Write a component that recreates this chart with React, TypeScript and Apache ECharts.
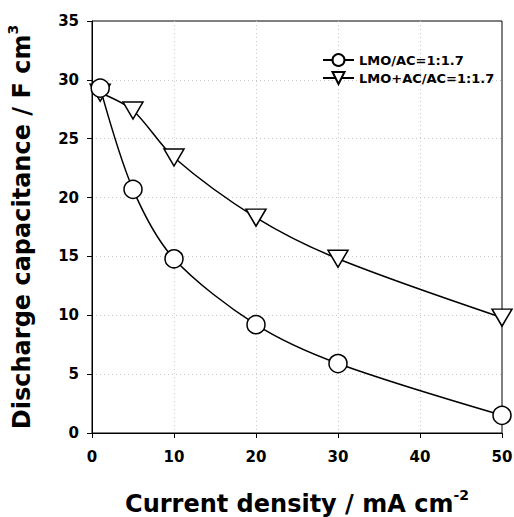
import React, { useEffect, useRef } from "react";
import * as echarts from "echarts";

const xValues = [1, 5, 10, 20, 30, 50];
const lmoAC = [29.3, 20.7, 14.8, 9.2, 5.9, 1.5];
const lmoACAC = [28.9, 27.4, 23.4, 18.3, 14.8, 9.8];
const seriesNames = ["LMO/AC=1:1.7", "LMO+AC/AC=1:1.7"];

const FONT = "DejaVu Sans";

export default function App() {
  const ref = useRef<HTMLDivElement>(null);
  useEffect(() => {
    if (!ref.current) return;
    const chart = echarts.init(ref.current, undefined, { renderer: "svg" });
    const mk = (vals: number[]) => xValues.map((x, i) => [x, vals[i]]);
    chart.setOption({
      animation: false,
      grid: {
        left: 92,
        right: 12,
        top: 21,
        bottom: 84,
        outerBoundsMode: "none",
        containLabel: false,
        show: true,
        borderColor: "#000",
        borderWidth: 1,
        backgroundColor: "transparent",
      },
      legend: {
        left: 317,
        top: 48,
        orient: "vertical",
        itemWidth: 31,
        itemHeight: 15,
        itemGap: 4,
        textStyle: { fontFamily: FONT, fontWeight: "bold", fontSize: 13, color: "#000" },
        data: seriesNames,
      },
      xAxis: {
        type: "value",
        min: 0,
        max: 50,
        interval: 10,
        name: "{m|Current density / mA cm}{s|-2}",
        nameLocation: "middle",
        nameGap: 55,
        nameTextStyle: {
          rich: {
            m: { fontFamily: FONT, fontWeight: "bold", fontSize: 24, color: "#000", lineHeight: 32 },
            s: { fontFamily: FONT, fontWeight: "bold", fontSize: 14, color: "#000", verticalAlign: "top", lineHeight: 32 },
          },
        },
        axisLine: { lineStyle: { color: "#000", width: 1 } },
        axisTick: { show: true, length: 5, lineStyle: { color: "#000" } },
        axisLabel: { fontFamily: FONT, fontWeight: "bold", fontSize: 15, color: "#000", margin: 16 },
        splitLine: { show: true, showMinLine: false, showMaxLine: false, lineStyle: { color: "#c8c8c8", type: [1, 3], width: 1 } },
      },
      yAxis: {
        type: "value",
        min: 0,
        max: 35,
        interval: 5,
        name: "{m|Discharge capacitance / F cm}{s|3}",
        nameLocation: "middle",
        nameGap: 54,
        nameTextStyle: {
          rich: {
            m: { fontFamily: FONT, fontWeight: "bold", fontSize: 24, color: "#000", lineHeight: 32 },
            s: { fontFamily: FONT, fontWeight: "bold", fontSize: 14, color: "#000", verticalAlign: "top", lineHeight: 32 },
          },
        },
        axisLine: { show: true, lineStyle: { color: "#000", width: 1 } },
        axisTick: { show: true, length: 5, lineStyle: { color: "#000" } },
        axisLabel: { fontFamily: FONT, fontWeight: "bold", fontSize: 15, color: "#000", margin: 13 },
        splitLine: { show: true, showMinLine: false, showMaxLine: false, lineStyle: { color: "#c8c8c8", type: [1, 3], width: 1 } },
      },
      series: [
        {
          name: seriesNames[0],
          type: "line",
          data: mk(lmoAC),
          smooth: 0.3,
          symbol: "circle",
          symbolSize: 18,
          lineStyle: { color: "#000", width: 1.5 },
          itemStyle: { color: "#fff", borderColor: "#000", borderWidth: 1.5 },
          z: 3,
        },
        {
          name: seriesNames[1],
          type: "line",
          data: mk(lmoACAC),
          smooth: 0.3,
          symbol: "triangle",
          symbolRotate: 180,
          symbolSize: [20, 17],
          lineStyle: { color: "#000", width: 1.5 },
          itemStyle: { color: "#fff", borderColor: "#000", borderWidth: 1.5 },
          z: 2,
        },
      ],
    });
    return () => chart.dispose();
  }, []);
  return <div ref={ref} style={{ width: 514, height: 517, position: "absolute", left: 0, top: 0 }} />;
}
